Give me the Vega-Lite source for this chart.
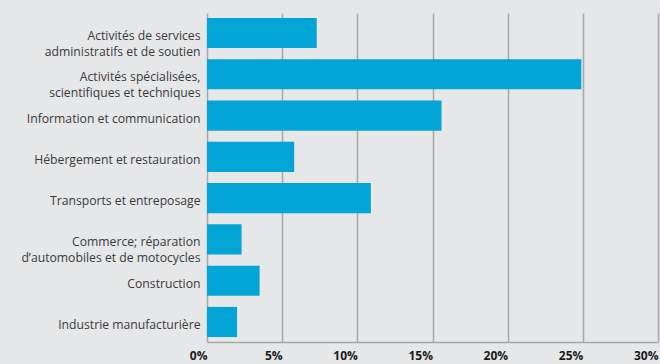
{
  "$schema": "https://vega.github.io/schema/vega-lite/v6.json",
  "autosize": "none",
  "width": 451,
  "height": 329,
  "padding": {"left": 207, "top": 13, "right": 2, "bottom": 22},
  "background": "#e6e7e9",
  "config": {
    "view": {"stroke": null},
    "font": "Open Sans"
  },
  "data": {
    "values": [
      {"secteur": "Activités de services|administratifs et de soutien", "part": 7.3},
      {"secteur": "Activités spécialisées,|scientifiques et techniques", "part": 24.9},
      {"secteur": "Information et communication", "part": 15.6},
      {"secteur": "Hébergement et restauration", "part": 5.8},
      {"secteur": "Transports et entreposage", "part": 10.9},
      {"secteur": "Commerce; réparation|d’automobiles et de motocycles", "part": 2.3},
      {"secteur": "Construction", "part": 3.5},
      {"secteur": "Industrie manufacturière", "part": 2.0}
    ]
  },
  "mark": {"type": "bar", "color": "#02a5d5"},
  "encoding": {
    "y": {
      "field": "secteur",
      "type": "nominal",
      "sort": null,
      "title": null,
      "scale": {"paddingInner": 0.27, "paddingOuter": 0.12},
      "axis": {
        "labelExpr": "split(datum.value, '|')",
        "labelLineHeight": 16,
        "labelFontSize": 12.2,
        "labelColor": "#3a3a3a",
        "labelPadding": 7,
        "labelOffset": 3,
        "ticks": false,
        "domain": false,
        "grid": false,
        "labelLimit": 250
      }
    },
    "x": {
      "field": "part",
      "type": "quantitative",
      "title": null,
      "scale": {"domain": [0, 30], "nice": false},
      "axis": {
        "values": [0, 5, 10, 15, 20, 25, 30],
        "labelExpr": "datum.value + '%'",
        "labelAlign": "right",
        "labelFontSize": 12,
        "labelFontWeight": "bold",
        "labelColor": "#1a1a1a",
        "labelPadding": 8,
        "ticks": false,
        "domain": true,
        "domainColor": "#a8a8a8",
        "domainWidth": 1.5,
        "grid": true,
        "gridColor": "#a8a8a8",
        "gridWidth": 1.5
      }
    }
  }
}
